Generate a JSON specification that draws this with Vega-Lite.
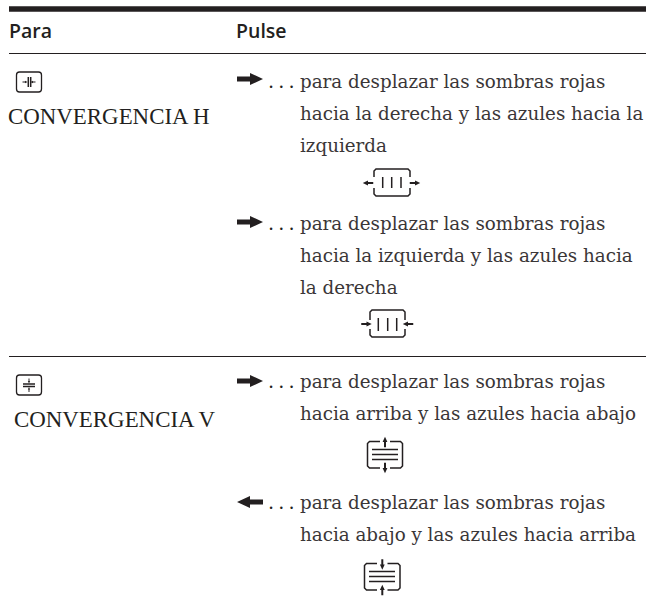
{"$schema":"https://vega.github.io/schema/vega-lite/v6.json","width":646,"height":609,"padding":0,"autosize":{"type":"none"},"background":"white","config":{"view":{"stroke":null}},
"datasets":{
"body":[{"x":300,"y":88,"t":"para desplazar las sombras rojas"},{"x":300,"y":120,"t":"hacia la derecha y las azules hacia la"},{"x":300,"y":152,"t":"izquierda"},{"x":300,"y":229.5,"t":"para desplazar las sombras rojas"},{"x":300,"y":261.5,"t":"hacia la izquierda y las azules hacia"},{"x":300,"y":293.5,"t":"la derecha"},{"x":300,"y":388,"t":"para desplazar las sombras rojas"},{"x":300,"y":420,"t":"hacia arriba y las azules hacia abajo"},{"x":300,"y":509,"t":"para desplazar las sombras rojas"},{"x":300,"y":541,"t":"hacia abajo y las azules hacia arriba"}],
"dots":[{"x":268.5,"y":88,"t":". . ."},{"x":268.5,"y":229.5,"t":". . ."},{"x":268.5,"y":388,"t":". . ."},{"x":268.5,"y":509,"t":". . ."}],
"caps":[{"x":8,"y":124,"t":"CONVERGENCIA H"},{"x":14,"y":427,"t":"CONVERGENCIA V"}],
"head":[{"x":9,"y":38,"t":"Para"},{"x":236,"y":38,"t":"Pulse"}],
"rules":[{"x":9,"x2":646,"y":53.5},{"x":9,"x2":646,"y":356.5}],
"thick":[{"x":9,"x2":646,"y":9}],
"boxes":[{"x":16.5,"x2":41.5,"y":72,"y2":92},{"x":16.5,"x2":41.5,"y":375,"y2":395}],
"big":[{"x":250,"y":79,"d":"r"},{"x":250,"y":222,"d":"r"},{"x":250,"y":381,"d":"r"},{"x":250,"y":502,"d":"l"}],
"small":[{"x":368,"y":183,"d":"l"},{"x":415,"y":183,"d":"r"},{"x":385,"y":442,"d":"u"},{"x":385,"y":468,"d":"d"},{"x":382.3,"y":564.5,"d":"d"},{"x":382.3,"y":590,"d":"u"},{"x":366.5,"y":324,"d":"r"},{"x":408,"y":324,"d":"l"}],
"tiny":[{"x":25,"y":82,"d":"r"},{"x":33,"y":82,"d":"l"},{"x":29,"y":381,"d":"d"},{"x":29,"y":389.5,"d":"u"}],
"lines":[
{"g":"a","o":1,"x":374,"y":177},{"g":"a","o":2,"x":374,"y":171},{"g":"a","o":3,"x":376,"y":169},{"g":"a","o":4,"x":408,"y":169},{"g":"a","o":5,"x":410,"y":171},{"g":"a","o":6,"x":410,"y":177},
{"g":"b","o":1,"x":374,"y":188},{"g":"b","o":2,"x":374,"y":194},{"g":"b","o":3,"x":376,"y":196},{"g":"b","o":4,"x":408,"y":196},{"g":"b","o":5,"x":410,"y":194},{"g":"b","o":6,"x":410,"y":188},
{"g":"c","o":1,"x":382.7,"y":177},{"g":"c","o":2,"x":382.7,"y":188},{"g":"d","o":1,"x":391.7,"y":177},{"g":"d","o":2,"x":391.7,"y":188},{"g":"e","o":1,"x":401,"y":177},{"g":"e","o":2,"x":401,"y":188},
{"g":"f","o":1,"x":370,"y":320},{"g":"f","o":2,"x":370,"y":312},{"g":"f","o":3,"x":372,"y":310},{"g":"f","o":4,"x":403,"y":310},{"g":"f","o":5,"x":405,"y":312},{"g":"f","o":6,"x":405,"y":320},
{"g":"h","o":1,"x":370,"y":329},{"g":"h","o":2,"x":370,"y":335},{"g":"h","o":3,"x":372,"y":337},{"g":"h","o":4,"x":403,"y":337},{"g":"h","o":5,"x":405,"y":335},{"g":"h","o":6,"x":405,"y":329},
{"g":"i","o":1,"x":378.3,"y":318},{"g":"i","o":2,"x":378.3,"y":331},{"g":"j","o":1,"x":387.7,"y":318},{"g":"j","o":2,"x":387.7,"y":331},{"g":"k","o":1,"x":396.7,"y":318},{"g":"k","o":2,"x":396.7,"y":331},
{"g":"m","o":1,"x":380,"y":441.5},{"g":"m","o":2,"x":369.5,"y":441.5},{"g":"m","o":3,"x":367.5,"y":443.5},{"g":"m","o":4,"x":367.5,"y":466},{"g":"m","o":5,"x":369.5,"y":468},{"g":"m","o":6,"x":380,"y":468},
{"g":"n","o":1,"x":390,"y":441.5},{"g":"n","o":2,"x":400.5,"y":441.5},{"g":"n","o":3,"x":402.5,"y":443.5},{"g":"n","o":4,"x":402.5,"y":466},{"g":"n","o":5,"x":400.5,"y":468},{"g":"n","o":6,"x":390,"y":468},
{"g":"p","o":1,"x":372,"y":449.5},{"g":"p","o":2,"x":398,"y":449.5},{"g":"q","o":1,"x":372,"y":454.5},{"g":"q","o":2,"x":398,"y":454.5},{"g":"s","o":1,"x":372,"y":459.5},{"g":"s","o":2,"x":398,"y":459.5},
{"g":"t","o":1,"x":377,"y":563.5},{"g":"t","o":2,"x":366.5,"y":563.5},{"g":"t","o":3,"x":364.5,"y":565.5},{"g":"t","o":4,"x":364.5,"y":588},{"g":"t","o":5,"x":366.5,"y":590},{"g":"t","o":6,"x":377,"y":590},
{"g":"u","o":1,"x":387.5,"y":563.5},{"g":"u","o":2,"x":398,"y":563.5},{"g":"u","o":3,"x":400,"y":565.5},{"g":"u","o":4,"x":400,"y":588},{"g":"u","o":5,"x":398,"y":590},{"g":"u","o":6,"x":387.5,"y":590},
{"g":"v","o":1,"x":369,"y":571.5},{"g":"v","o":2,"x":395,"y":571.5},{"g":"w","o":1,"x":369,"y":576.5},{"g":"w","o":2,"x":395,"y":576.5},{"g":"z","o":1,"x":369,"y":581.5},{"g":"z","o":2,"x":395,"y":581.5},
{"g":"aa","o":1,"x":28.3,"y":77},{"g":"aa","o":2,"x":28.3,"y":87},{"g":"ab","o":1,"x":30.7,"y":77},{"g":"ab","o":2,"x":30.7,"y":87},
{"g":"ac","o":1,"x":23,"y":384},{"g":"ac","o":2,"x":35,"y":384},{"g":"ad","o":1,"x":23,"y":386.5},{"g":"ad","o":2,"x":35,"y":386.5}
]},
"encoding":{"x":{"field":"x","type":"quantitative","scale":{"domain":[0,646],"nice":false},"axis":null},"y":{"field":"y","type":"quantitative","scale":{"domain":[609,0],"nice":false},"axis":null}},
"layer":[
{"data":{"name":"thick"},"mark":{"type":"rule","stroke":"#231f20","strokeWidth":5.5},"encoding":{"x2":{"field":"x2"}}},
{"data":{"name":"rules"},"mark":{"type":"rule","stroke":"#231f20","strokeWidth":1},"encoding":{"x2":{"field":"x2"}}},
{"data":{"name":"head"},"mark":{"type":"text","font":"Open Sans","fontWeight":600,"fontSize":19.5,"align":"left","baseline":"alphabetic","fill":"#231f20"},"encoding":{"text":{"field":"t"}}},
{"data":{"name":"body"},"mark":{"type":"text","font":"DejaVu Serif","fontSize":18.3,"align":"left","baseline":"alphabetic","fill":"#3a3637"},"encoding":{"text":{"field":"t"}}},
{"data":{"name":"dots"},"mark":{"type":"text","font":"Liberation Serif","fontSize":20.5,"align":"left","baseline":"alphabetic","fill":"#231f20"},"encoding":{"text":{"field":"t"}}},
{"data":{"name":"caps"},"mark":{"type":"text","font":"Liberation Serif","fontSize":22.9,"align":"left","baseline":"alphabetic","fill":"#231f20"},"encoding":{"text":{"field":"t"}}},
{"data":{"name":"boxes"},"mark":{"type":"rect","fill":null,"stroke":"#231f20","strokeWidth":1.3,"cornerRadius":3},"encoding":{"x2":{"field":"x2"},"y2":{"field":"y2"}}},
{"data":{"name":"lines"},"mark":{"type":"line","stroke":"#231f20","strokeWidth":1.5},"encoding":{"detail":{"field":"g"},"order":{"field":"o"}}},
{"data":{"name":"big"},"mark":{"type":"point","filled":true,"fill":"#231f20","stroke":null,"opacity":1,"size":676},"encoding":{"shape":{"field":"d","legend":null,"scale":{"domain":["r","l","u","d"],"range":["M-1,-.19L0,-.19L0,-.46L1,0L0,.46L0,.19L-1,.19Z","M1,-.19L0,-.19L0,-.46L-1,0L0,.46L0,.19L1,.19Z","M-.19,1L-.19,0L-.46,0L0,-1L.46,0L.19,0L.19,1Z","M-.19,-1L-.19,0L-.46,0L0,1L.46,0L.19,0L.19,-1Z"]}}}},
{"data":{"name":"small"},"mark":{"type":"point","filled":true,"fill":"#231f20","stroke":null,"opacity":1,"size":110},"encoding":{"shape":{"field":"d","legend":null}}},
{"data":{"name":"tiny"},"mark":{"type":"point","filled":true,"fill":"#231f20","stroke":null,"opacity":1,"size":25},"encoding":{"shape":{"field":"d","legend":null}}}
],
"resolve":{"scale":{"shape":"shared"}}}
